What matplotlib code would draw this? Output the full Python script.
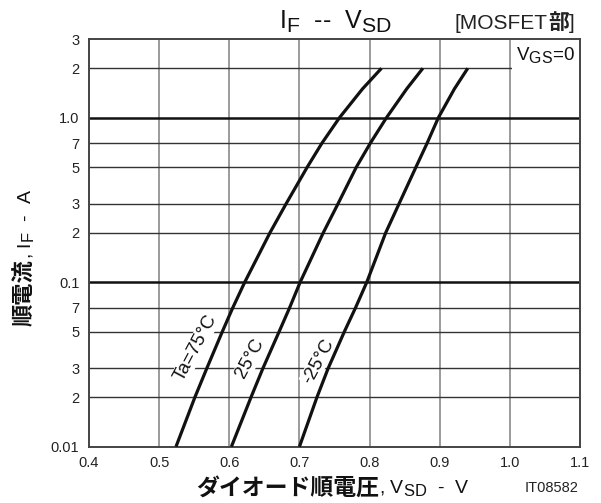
import matplotlib
matplotlib.use('Agg')
import matplotlib.pyplot as plt
import matplotlib._mathtext as mt

plt.rcParams['font.family'] = ['Liberation Sans', 'Noto Sans CJK JP']
plt.rcParams['mathtext.fontset'] = 'custom'
plt.rcParams['mathtext.rm'] = 'Liberation Sans'
plt.rcParams['mathtext.it'] = 'Liberation Sans'
# subscripts in the original are nearly full size
mt.SHRINK_FACTOR = 0.85

# forward current points (A)
if_pts = [0.01, 0.02, 0.03, 0.05, 0.07, 0.1, 0.2, 0.3, 0.5, 0.7, 1.0, 1.5, 2.0]
# diode forward voltage for each temperature (V)
vsd_75 = [0.524, 0.551, 0.568, 0.590, 0.605, 0.622, 0.658, 0.681, 0.711, 0.732, 0.757, 0.790, 0.817]
vsd_25 = [0.603, 0.631, 0.648, 0.671, 0.686, 0.701, 0.734, 0.755, 0.781, 0.801, 0.824, 0.853, 0.876]
vsd_m25 = [0.700, 0.725, 0.741, 0.764, 0.780, 0.796, 0.823, 0.842, 0.866, 0.882, 0.898, 0.921, 0.940]

curve_labels = ['Ta=75°C', '25°C', '-25°C']
label_pos = [(0.552, 0.040), (0.630, 0.0345), (0.727, 0.033)]

x_ticks = [0.4, 0.5, 0.6, 0.7, 0.8, 0.9, 1.0, 1.1]
x_ticklabels = ['0.4', '0.5', '0.6', '0.7', '0.8', '0.9', '1.0', '1.1']
y_ticks = [0.01, 0.02, 0.03, 0.05, 0.07, 0.1, 0.2, 0.3, 0.5, 0.7, 1.0, 2.0, 3.0]
y_ticklabels = ['0.01', '2', '3', '5', '7', '0.1', '2', '3', '5', '7', '1.0', '2', '3']

fig = plt.figure(figsize=(6.01, 5.03), dpi=100)
W, H = 601, 503
ax = fig.add_axes([89 / W, 1 - 446.7 / H, (580 - 89) / W, (446.7 - 39.3) / H])

ax.set_yscale('log')
ax.set_xlim(0.4, 1.1)
ax.set_ylim(0.01, 3)

# grid
for x in x_ticks[1:-1]:
    ax.axvline(x, color='#808080', lw=1.1, zorder=1)
for y in y_ticks[1:-1]:
    if y in (0.1, 1.0):
        ax.axhline(y, color='#111111', lw=1.8, zorder=1)
    else:
        ax.axhline(y, color='#333333', lw=1.0, zorder=1)

for v in (vsd_75, vsd_25, vsd_m25):
    ax.plot(v, if_pts, color='#111111', lw=2.3, solid_capstyle='butt',
            solid_joinstyle='round', zorder=3)

# labels sit over the grid but under the curves
for txt, (x, y) in zip(curve_labels, label_pos):
    ax.text(x, y, txt, rotation=62, rotation_mode='anchor', ha='center', va='center',
            fontsize=13.5, color='#111111', zorder=2,
            bbox=dict(facecolor='white', edgecolor='none', pad=0.5))

ax.set_xticks(x_ticks)
ax.set_xticklabels(x_ticklabels)
ax.set_yticks(y_ticks)
ax.set_yticklabels(y_ticklabels)
ax.minorticks_off()
ax.tick_params(length=0, labelsize=10.5, colors='#222222', pad=7)
for s in ax.spines.values():
    s.set_color('#444444')
    s.set_linewidth(1.4)

# VGS=0 box in top right
ax.text(0.99, 0.985, r'$\mathrm{V_{GS}}$=0', transform=ax.transAxes, ha='right', va='top',
        fontsize=13.5, color='#111111', zorder=5,
        bbox=dict(facecolor='white', edgecolor='none', pad=3))

# title
fig.text(335 / W, 1 - 22 / H, r'$\mathrm{I_F}$  --  $\mathrm{V_{SD}}$', ha='center', va='center',
         fontsize=18, color='#111111')
t1 = fig.text(455 / W, 1 - 29 / H, '[MOSFET', ha='left', va='baseline', fontsize=15, color='#222222')
t2 = ax.annotate('部', xy=(1, 0), xycoords=t1, ha='left', va='bottom',
                 fontsize=15, fontweight='bold', color='#222222', family='Noto Sans CJK JP')
ax.annotate(']', xy=(1, 0), xycoords=t2, ha='left', va='bottom', fontsize=15, color='#222222')

# x label
fig.text(379 / W, 1 - 488 / H, 'ダイオード順電圧', ha='right', va='center',
         fontsize=16.5, fontweight='bold', family='Noto Sans CJK JP', color='#111111')
fig.text(379 / W, 1 - 488 / H, r', $\mathrm{V_{SD}}$  -  V', ha='left', va='center',
         fontsize=14, color='#111111')
fig.text(578 / W, 1 - 488 / H, 'IT08582', ha='right', va='center', fontsize=10.5, color='#222222')

# y label
fig.text(25 / W, 1 - 326 / H, '順電流', rotation=90, ha='center', va='bottom',
         fontsize=16, fontweight='bold', family='Noto Sans CJK JP', color='#111111')
fig.text(26 / W, 1 - 259 / H, r', $\mathrm{I_F}$  -  A', rotation=90, ha='center', va='bottom',
         fontsize=14, color='#111111')

fig.savefig('out.png', dpi=100)
